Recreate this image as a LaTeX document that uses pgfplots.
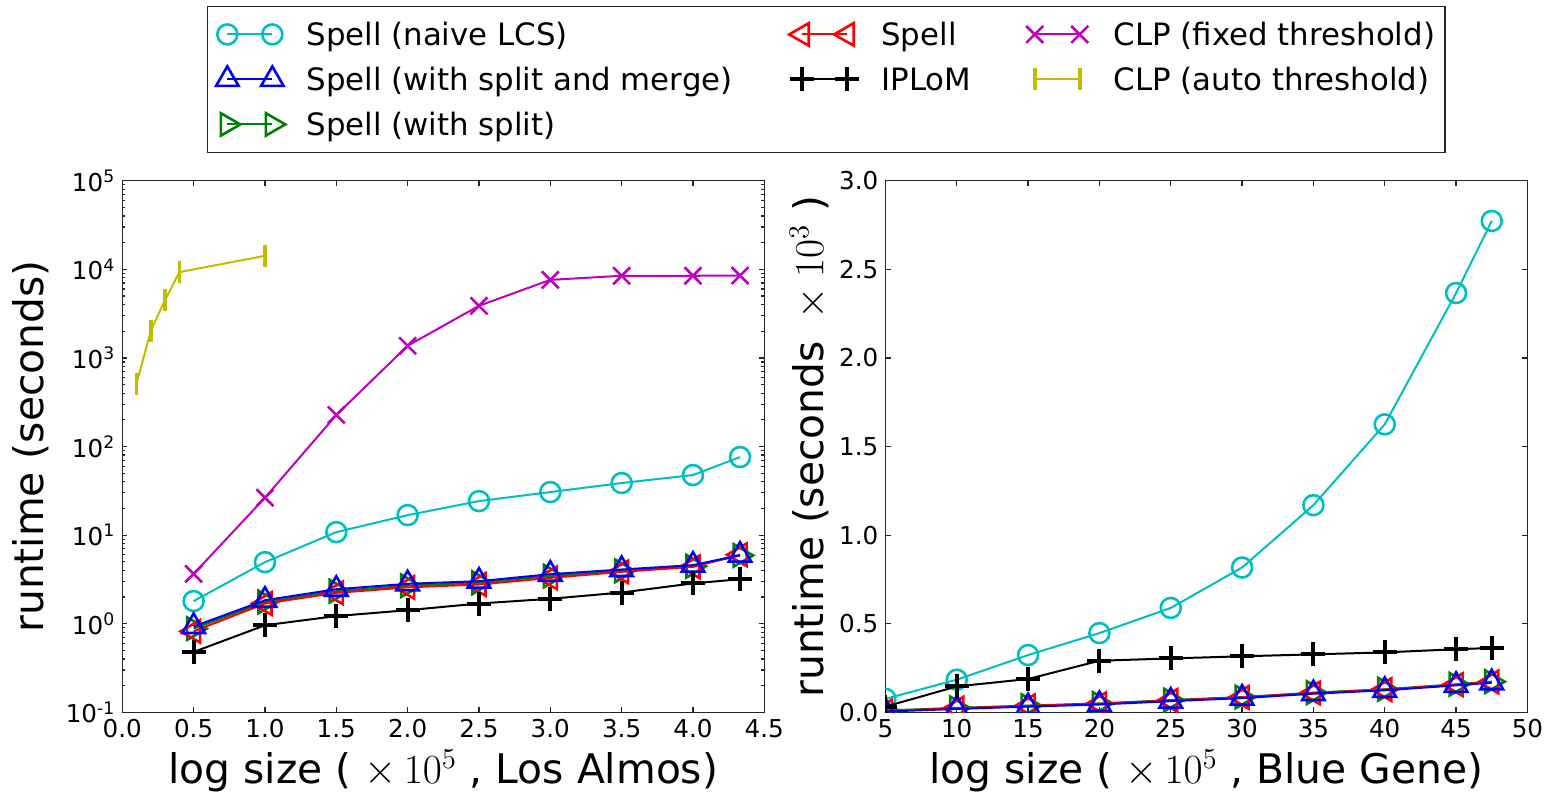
\documentclass[border=0pt]{standalone}
\usepackage{fontspec}
\setmainfont{DejaVu Sans}
\usepackage{pgfplots}
\pgfplotsset{compat=1.18}

\definecolor{mc}{rgb}{0,0.75,0.75}
\definecolor{mm}{rgb}{0.75,0,0.75}
\definecolor{my}{rgb}{0.75,0.75,0}
\definecolor{mg}{rgb}{0,0.5,0}

\pgfplotsset{
 naive/.style={color=mc, line width=1pt, mark=o, mark size=5pt, mark options={line width=1.3pt, fill=none}},
 smerge/.style={color=blue, line width=1pt, mark=triangle, mark size=6.5pt, mark options={line width=1.3pt, fill=none}},
 ssplit/.style={color=mg, line width=1pt, mark=triangle, mark size=6.5pt, mark options={line width=1.3pt, rotate=-90, fill=none}},
 spell/.style={color=red, line width=1pt, mark=triangle, mark size=6.5pt, mark options={line width=1.3pt, rotate=90, fill=none}},
 iplom/.style={color=black, line width=1pt, mark=+, mark size=6pt, mark options={line width=2pt}},
 clpf/.style={color=mm, line width=1pt, mark=x, mark size=6pt, mark options={line width=1.3pt}},
 clpa/.style={color=my, line width=1pt, mark=|, mark size=5.5pt, mark options={line width=1.8pt}},
 common/.style={
   scale only axis, width=321pt, height=265.8pt,
   axis line style={line width=0.6pt, black!85},
   major tick length=2.6pt, minor tick length=1.6pt,
   every tick/.style={black!85, line width=0.6pt},
   ticklabel style={font=\fontsize{12.3}{14}\selectfont},
   label style={font=\fontsize{20.4}{24}\selectfont},
   /pgf/number format/assume math mode=true,
   clip mode=global, clip marker paths=true,
 },
}

\begin{document}
\begin{tikzpicture}
\useasboundingbox (-61.15pt,-40.35pt) rectangle (714.85pt,356.15pt);

\begin{axis}[common,
  ymode=log, xmin=0, xmax=4.5, ymin=0.1, ymax=100000,
  xtick={0,0.5,1,1.5,2,2.5,3,3.5,4,4.5},
  xticklabel style={/pgf/number format/.cd, fixed, fixed zerofill, precision=1},
  ytick={0.1,1,10,100,1000,10000,100000},
  yticklabels={10\textsuperscript{-1},10\textsuperscript{0},10\textsuperscript{1},10\textsuperscript{2},10\textsuperscript{3},10\textsuperscript{4},10\textsuperscript{5}},
  minor ytick={0.2,0.3,0.4,0.5,0.6,0.7,0.8,0.9,2,3,4,5,6,7,8,9,20,30,40,50,60,70,80,90,200,300,400,500,600,700,800,900,2000,3000,4000,5000,6000,7000,8000,9000,20000,30000,40000,50000,60000,70000,80000,90000},
  xlabel={log size ( $\times\,10^5$ , Los Almos)},
  ylabel={runtime (seconds)},
  xlabel style={at={(axis description cs:0.5,-0.1332)}, anchor=base},
  ylabel style={at={(axis description cs:-0.1231,0.5)}, anchor=base},
  legend columns=3, legend cell align=left,
  legend style={at={(axis description cs:0.1315,1.3286)}, anchor=north west,
    draw=black!85, line width=0.6pt, fill=white,
    font=\fontsize{15.4}{18}\selectfont,
    inner xsep=3.5pt, inner ysep=7.4pt, row sep=9.5pt,
    nodes={inner xsep=0pt, inner ysep=0pt, text height=12pt, text depth=1pt},
    /tikz/every even column/.append style={column sep=0pt},
    /tikz/every odd column/.append style={column sep=10.6pt}},
  legend image code/.code={
    \path[draw=none, fill=none] (-6.5pt,-6.5pt) rectangle (29pt,6.5pt);
    \draw[mark repeat=2,mark phase=1,#1] plot coordinates {(0pt,0pt) (11.25pt,0pt) (22.5pt,0pt)};
  },
]
\addplot[naive, forget plot] coordinates {(0.5,1.8)(1.0,4.95)(1.5,10.8)(2.0,16.8)(2.5,24.2)(3.0,30.6)(3.5,38.7)(4.0,47.6)(4.33,76)};
\addplot[ssplit, forget plot] coordinates {(0.5,0.88)(1.0,1.76)(1.5,2.33)(2.0,2.68)(2.5,2.9)(3.0,3.45)(3.5,3.95)(4.0,4.45)(4.33,5.9)};
\addplot[spell, forget plot] coordinates {(0.5,0.82)(1.0,1.69)(1.5,2.23)(2.0,2.57)(2.5,2.77)(3.0,3.29)(3.5,3.85)(4.0,4.38)(4.33,6.0)};
\addplot[smerge, forget plot] coordinates {(0.5,0.93)(1.0,1.84)(1.5,2.45)(2.0,2.82)(2.5,3.02)(3.0,3.62)(3.5,4.09)(4.0,4.58)(4.33,5.94)};
\addplot[iplom, forget plot] coordinates {(0.5,0.48)(1.0,0.96)(1.5,1.22)(2.0,1.42)(2.5,1.69)(3.0,1.91)(3.5,2.25)(4.0,2.85)(4.33,3.18)};
\addplot[clpf, forget plot] coordinates {(0.5,3.65)(1.0,26.4)(1.5,227)(2.0,1370)(2.5,3870)(3.0,7600)(3.5,8450)(4.0,8450)(4.33,8500)};
\addplot[clpa, forget plot] coordinates {(0.1,510)(0.2,2030)(0.3,4500)(0.4,9300)(1.0,14200)};

\addlegendimage{naive}\addlegendentry{\makebox[241.35pt][l]{Spell (naive LCS)}}
\addlegendimage{spell}\addlegendentry{\makebox[70.15pt][l]{Spell}}
\addlegendimage{clpf}\addlegendentry{\makebox[162pt][l]{CLP (fixed threshold)}}
\addlegendimage{smerge}\addlegendentry{\makebox[241.35pt][l]{Spell (with split and merge)}}
\addlegendimage{iplom}\addlegendentry{\makebox[70.15pt][l]{IPLoM}}
\addlegendimage{clpa}\addlegendentry{\makebox[162pt][l]{CLP (auto threshold)}}
\addlegendimage{ssplit}\addlegendentry{\makebox[241.35pt][l]{Spell (with split)}}
\addlegendimage{empty legend}\addlegendentry{}
\addlegendimage{empty legend}\addlegendentry{}
\end{axis}

\begin{axis}[common, at={(381.55pt,0pt)}, anchor=south west,
  xmin=5, xmax=50, ymin=0, ymax=3,
  xtick={5,10,15,20,25,30,35,40,45,50},
  ytick={0,0.5,1,1.5,2,2.5,3},
  yticklabel style={/pgf/number format/.cd, fixed, fixed zerofill, precision=1},
  xlabel={log size ( $\times\,10^5$ , Blue Gene)},
  ylabel={runtime (seconds ${}\times 10^3$ )},
  xlabel style={at={(axis description cs:0.5,-0.1332)}, anchor=base},
  ylabel style={at={(axis description cs:-0.0966,0.5)}, anchor=base},
]
\addplot[naive] coordinates {(5,0.076)(10,0.184)(15,0.323)(20,0.447)(25,0.589)(30,0.817)(35,1.169)(40,1.625)(45,2.366)(47.5,2.773)};
\addplot[ssplit] coordinates {(5,0.010)(10,0.025)(15,0.038)(20,0.050)(25,0.069)(30,0.086)(35,0.111)(40,0.130)(45,0.158)(47.5,0.173)};
\addplot[spell] coordinates {(5,0.008)(10,0.023)(15,0.036)(20,0.048)(25,0.067)(30,0.084)(35,0.109)(40,0.128)(45,0.156)(47.5,0.171)};
\addplot[smerge] coordinates {(5,0.004)(10,0.019)(15,0.032)(20,0.044)(25,0.063)(30,0.080)(35,0.105)(40,0.124)(45,0.152)(47.5,0.167)};
\addplot[iplom] coordinates {(5,0.032)(10,0.146)(15,0.188)(20,0.291)(25,0.304)(30,0.316)(35,0.327)(40,0.338)(45,0.356)(47.5,0.363)};
\end{axis}
\end{tikzpicture}
\end{document}
